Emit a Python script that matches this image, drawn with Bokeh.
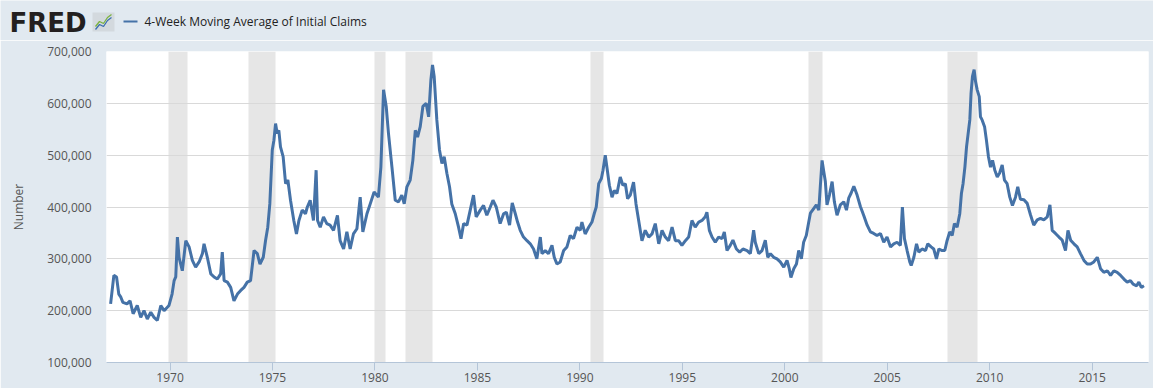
from bokeh.plotting import figure
from bokeh.layouts import column
from bokeh.models import (FixedTicker, NumeralTickFormatter, Range1d, ColumnDataSource)
from bokeh.core.properties import value
from bokeh.embed import file_html
from bokeh.resources import INLINE

# ---------------- data ----------------
series_name = "4-Week Moving Average of Initial Claims"
y_label = "Number"

dates = [
    1967.10, 1967.26, 1967.39, 1967.50, 1967.60, 1967.70, 1967.90, 1968.05, 1968.20, 1968.40,
    1968.57, 1968.73, 1968.89, 1969.06, 1969.22, 1969.38, 1969.55, 1969.71, 1969.95, 1970.10,
    1970.20, 1970.28, 1970.36, 1970.44, 1970.60, 1970.77, 1970.93, 1971.09, 1971.25, 1971.42,
    1971.58, 1971.66, 1971.82, 1971.99, 1972.15, 1972.31, 1972.47, 1972.55, 1972.64, 1972.80,
    1972.96, 1973.12, 1973.29, 1973.45, 1973.61, 1973.77, 1973.93, 1974.10, 1974.26, 1974.39,
    1974.55, 1974.66, 1974.77, 1974.87, 1974.99, 1975.07, 1975.15, 1975.23, 1975.31, 1975.39,
    1975.52, 1975.64, 1975.75, 1975.88, 1976.04, 1976.17, 1976.29, 1976.45, 1976.61, 1976.70,
    1976.84, 1977.00, 1977.13, 1977.20, 1977.33, 1977.49, 1977.65, 1977.81, 1977.98, 1978.17,
    1978.30, 1978.47, 1978.63, 1978.79, 1978.95, 1979.12, 1979.28, 1979.41, 1979.61, 1979.77,
    1979.96, 1980.17, 1980.29, 1980.42, 1980.55, 1980.66, 1980.83, 1980.99, 1981.15, 1981.31,
    1981.43, 1981.56, 1981.72, 1981.85, 1981.97, 1982.08, 1982.21, 1982.34, 1982.50, 1982.62,
    1982.73, 1982.81, 1982.89, 1983.02, 1983.15, 1983.27, 1983.38, 1983.51, 1983.64, 1983.75,
    1983.92, 1984.08, 1984.20, 1984.33, 1984.49, 1984.65, 1984.81, 1984.94, 1985.14, 1985.30,
    1985.46, 1985.63, 1985.76, 1985.92, 1986.11, 1986.28, 1986.41, 1986.57, 1986.70, 1986.85,
    1986.96, 1987.09, 1987.25, 1987.42, 1987.58, 1987.74, 1987.90, 1988.07, 1988.15, 1988.31,
    1988.47, 1988.64, 1988.75, 1988.88, 1989.04, 1989.21, 1989.37, 1989.53, 1989.69, 1989.86,
    1990.02, 1990.10, 1990.26, 1990.43, 1990.59, 1990.70, 1990.80, 1990.92, 1991.05, 1991.13,
    1991.24, 1991.32, 1991.44, 1991.57, 1991.68, 1991.81, 1991.97, 1992.10, 1992.22, 1992.33,
    1992.46, 1992.62, 1992.74, 1992.87, 1993.03, 1993.19, 1993.36, 1993.52, 1993.68, 1993.85,
    1994.01, 1994.17, 1994.33, 1994.50, 1994.66, 1994.82, 1994.98, 1995.15, 1995.31, 1995.47,
    1995.63, 1995.80, 1995.96, 1996.12, 1996.20, 1996.32, 1996.45, 1996.61, 1996.77, 1996.94,
    1997.05, 1997.18, 1997.34, 1997.47, 1997.64, 1997.80, 1997.96, 1998.16, 1998.32, 1998.48,
    1998.56, 1998.73, 1998.89, 1999.05, 1999.17, 1999.30, 1999.46, 1999.62, 1999.78, 1999.95,
    2000.11, 2000.22, 2000.30, 2000.44, 2000.57, 2000.68, 2000.81, 2000.92, 2001.05, 2001.17,
    2001.25, 2001.41, 2001.54, 2001.66, 2001.74, 2001.82, 2001.90, 2001.98, 2002.06, 2002.18,
    2002.31, 2002.42, 2002.55, 2002.71, 2002.88, 2003.01, 2003.12, 2003.24, 2003.37, 2003.53,
    2003.69, 2003.85, 2004.02, 2004.18, 2004.34, 2004.50, 2004.67, 2004.83, 2004.99, 2005.16,
    2005.32, 2005.48, 2005.64, 2005.74, 2005.84, 2005.97, 2006.10, 2006.17, 2006.30, 2006.43,
    2006.54, 2006.70, 2006.87, 2006.98, 2007.14, 2007.27, 2007.40, 2007.52, 2007.68, 2007.81,
    2007.92, 2008.05, 2008.17, 2008.28, 2008.41, 2008.54, 2008.62, 2008.70, 2008.79, 2008.87,
    2008.95, 2009.03, 2009.09, 2009.16, 2009.24, 2009.31, 2009.39, 2009.49, 2009.55, 2009.63,
    2009.75, 2009.84, 2009.94, 2010.04, 2010.14, 2010.25, 2010.37, 2010.48, 2010.61, 2010.72,
    2010.85, 2010.98, 2011.11, 2011.26, 2011.37, 2011.50, 2011.67, 2011.83, 2011.99, 2012.15,
    2012.32, 2012.48, 2012.64, 2012.81, 2012.94, 2013.05, 2013.21, 2013.38, 2013.54, 2013.70,
    2013.82, 2013.95, 2014.11, 2014.27, 2014.43, 2014.60, 2014.76, 2014.92, 2015.08, 2015.25,
    2015.41, 2015.57, 2015.74, 2015.90, 2016.06, 2016.22, 2016.39, 2016.55, 2016.71, 2016.87,
    2017.00, 2017.17, 2017.28, 2017.40, 2017.53,
]

claims_k = [
    213, 268, 265, 232, 226, 216, 213, 219, 194, 210,
    187, 200, 184, 197, 187, 181, 210, 200, 210, 232,
    258, 265, 342, 303, 277, 335, 323, 297, 284, 294,
    310, 329, 303, 271, 265, 261, 271, 313, 258, 255,
    245, 219, 232, 239, 245, 255, 258, 316, 310, 290,
    303, 335, 361, 406, 510, 529, 561, 542, 548, 516,
    497, 445, 452, 413, 374, 348, 374, 394, 387, 400,
    413, 374, 471, 374, 361, 381, 368, 365, 355, 384,
    335, 319, 352, 319, 348, 358, 419, 352, 387, 406,
    429, 419, 477, 626, 594, 542, 477, 413, 410, 423,
    406, 439, 452, 490, 548, 535, 555, 594, 600, 574,
    645, 674, 652, 568, 510, 484, 497, 465, 439, 406,
    387, 361, 339, 368, 365, 394, 423, 381, 394, 403,
    384, 400, 413, 400, 368, 387, 390, 365, 408, 387,
    371, 355, 342, 335, 329, 319, 300, 342, 310, 316,
    310, 326, 303, 290, 294, 316, 323, 345, 339, 361,
    355, 371, 348, 361, 371, 387, 400, 445, 455, 471,
    500, 477, 442, 419, 432, 426, 458, 442, 445, 416,
    423, 448, 406, 374, 335, 355, 342, 348, 368, 329,
    355, 342, 335, 361, 335, 335, 326, 335, 342, 374,
    361, 371, 374, 381, 390, 355, 342, 332, 342, 339,
    352, 316, 326, 336, 319, 313, 319, 316, 310, 355,
    332, 310, 316, 336, 303, 310, 303, 300, 294, 284,
    297, 281, 264, 281, 290, 316, 300, 332, 345, 371,
    388, 397, 404, 394, 443, 490, 469, 449, 404, 423,
    449, 410, 384, 404, 410, 394, 417, 427, 440, 423,
    401, 384, 365, 352, 349, 345, 349, 332, 342, 323,
    329, 332, 326, 400, 339, 316, 294, 287, 303, 329,
    313, 319, 316, 329, 323, 319, 300, 319, 316, 316,
    335, 352, 345, 368, 361, 387, 426, 445, 477, 516,
    542, 568, 619, 652, 665, 642, 626, 613, 574, 568,
    555, 529, 497, 477, 490, 471, 458, 465, 481, 452,
    445, 419, 403, 419, 439, 415, 414, 407, 385, 365,
    375, 378, 375, 381, 404, 355, 349, 342, 336, 316,
    355, 336, 329, 323, 310, 297, 290, 290, 294, 303,
    281, 274, 277, 268, 277, 274, 268, 261, 255, 258,
    251, 248, 255, 245, 248,
]

# NBER recessions (shaded)
rec_start = [1969.92, 1973.83, 1980.00, 1981.50, 1990.50, 2001.17, 2007.92]
rec_end = [1970.83, 1975.17, 1980.50, 1982.83, 1991.17, 2001.83, 2009.42]

x_ticks = [1970, 1975, 1980, 1985, 1990, 1995, 2000, 2005, 2010, 2015]
y_ticks = [100000, 200000, 300000, 400000, 500000, 600000, 700000]

# ---------------- styling ----------------
BG = "#e1e9f0"
LINE = "#4572a7"
TXT = "#555555"
FONT = "Open Sans"

W = 1153
HEAD_H = 40
MAIN_H = 348

# ---------------- header strip (logo + legend) ----------------
hdr = figure(width=W, height=HEAD_H, output_backend="svg", toolbar_location=None,
             x_range=Range1d(0, W), y_range=Range1d(HEAD_H, 0),
             min_border_left=0, min_border_right=0, min_border_top=0, min_border_bottom=0,
             background_fill_color=BG, border_fill_color=BG, outline_line_color=None)
hdr.axis.visible = False
hdr.grid.visible = False

hdr.text(x=[9], y=[22], text=["FRED"], text_font=value("DejaVu Sans"),
         text_font_style="bold", text_font_size="26px", text_color="#231f20",
         text_baseline="middle", text_align="left")
hdr.quad(left=[92], right=[114], top=[12], bottom=[31], fill_color="#d3d9de", line_color=None)
hdr.line([95, 99, 103, 107, 111], [29, 24, 26, 20, 17], line_color="#3d6fb0", line_width=1.3)
hdr.line([95, 99, 103, 107, 111], [26, 21, 23, 17, 14], line_color="#7cb342", line_width=1.3)
hdr.line([123, 137], [21, 21], line_color=LINE, line_width=2.2)
hdr.text(x=[144], y=[21], text=[series_name], text_font=value(FONT),
         text_font_size="12px", text_color="#222222",
         text_baseline="middle", text_align="left")

# ---------------- main chart ----------------
p = figure(width=W, height=MAIN_H, output_backend="svg", toolbar_location=None,
           x_range=Range1d(1966.9, 2017.75), y_range=Range1d(100000, 700000),
           min_border_left=106, min_border_right=5,
           min_border_top=11, min_border_bottom=26,
           background_fill_color="white", border_fill_color=BG,
           outline_line_color=None)

# keep the header strip's frame independent from the chart's frame
try:
    hdr.frame_align = False
    p.frame_align = False
except Exception:
    pass

rec_src = ColumnDataSource(dict(x0=rec_start, x1=rec_end))
strips = p.vstrip(x0="x0", x1="x1", source=rec_src, fill_color="#e6e6e6",
                  line_color=None)
strips.level = "image"

src = ColumnDataSource(dict(x=dates, y=[v * 1000 for v in claims_k]))
p.line("x", "y", source=src, line_color=LINE, line_width=3)

p.xaxis.ticker = FixedTicker(ticks=x_ticks)
p.xaxis.axis_line_color = "#b4c5d8"
p.xaxis.major_tick_line_color = "#b4c5d8"
p.xaxis.major_tick_out = 8
p.xaxis.major_tick_in = 0
p.xaxis.minor_tick_line_color = None
p.xaxis.major_label_standoff = 2
p.xaxis.major_label_text_font = FONT
p.xaxis.major_label_text_font_size = "12px"
p.xaxis.major_label_text_color = TXT
p.xgrid.visible = False

p.yaxis.ticker = FixedTicker(ticks=y_ticks)
p.yaxis.formatter = NumeralTickFormatter(format="0,0")
p.yaxis.axis_line_color = None
p.yaxis.major_tick_line_color = None
p.yaxis.minor_tick_line_color = None
p.yaxis.major_tick_out = 0
p.yaxis.major_tick_in = 0
p.yaxis.major_label_standoff = 15
p.yaxis.major_label_text_font = FONT
p.yaxis.major_label_text_font_size = "12px"
p.yaxis.major_label_text_color = TXT
p.yaxis.axis_label = y_label
p.yaxis.axis_label_text_font = FONT
p.yaxis.axis_label_text_font_style = "normal"
p.yaxis.axis_label_text_font_size = "12px"
p.yaxis.axis_label_text_color = TXT
p.yaxis.axis_label_standoff = 17
p.ygrid.ticker = FixedTicker(ticks=y_ticks)
p.ygrid.grid_line_color = "#d9d9d9"

layout = column(hdr, p, spacing=0)
open("out.html", "w").write(file_html(layout, INLINE))
